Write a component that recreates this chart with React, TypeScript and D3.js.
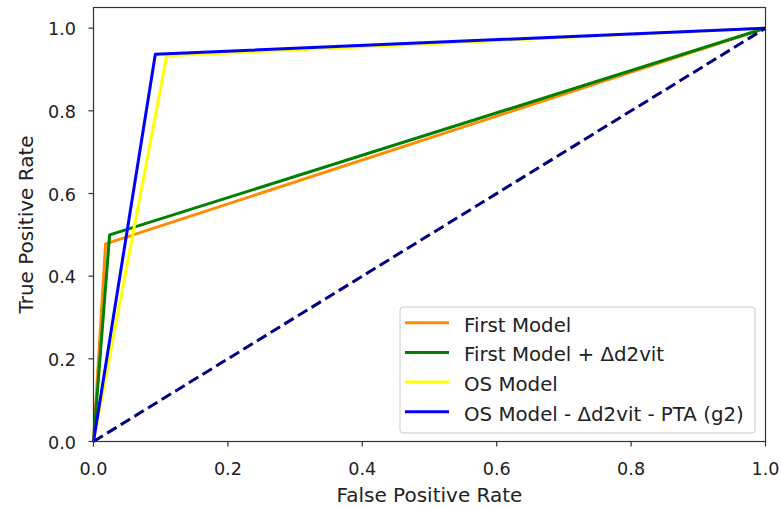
import React from "react";
import * as d3 from "d3";

const seriesNames = ["First Model", "First Model + Δd2vit", "OS Model", "OS Model - Δd2vit - PTA (g2)"];
const seriesColors = ["darkorange", "green", "yellow", "blue"];
const fprValues = [
  [0, 0.018, 1],
  [0, 0.024, 1],
  [0, 0.109, 1],
  [0, 0.092, 1],
];
const tprValues = [
  [0, 0.478, 1],
  [0, 0.5, 1],
  [0, 0.933, 1],
  [0, 0.937, 1],
];
const diagX = [0, 1];
const diagY = [0, 1];
const xTicks = [0, 0.2, 0.4, 0.6, 0.8, 1.0];
const yTicks = [0, 0.2, 0.4, 0.6, 0.8, 1.0];

export default function App() {
  const W = 781, H = 507;
  const left = 93.5, right = 765.5, top = 7.5, bottom = 441.5;
  const x = d3.scaleLinear().domain([0, 1]).range([left, right]);
  const y = d3.scaleLinear().domain([0, 1.05]).range([bottom, top]);
  const line = d3.line<[number, number]>().x((d) => x(d[0])).y((d) => y(d[1]));
  const font = "DejaVu Sans, sans-serif";
  const legX = 400, legY = 307, legW = 355, legH = 126;
  return (
    <svg width={W} height={H} style={{ position: "absolute", left: 0, top: 0 }}>
      <rect width={W} height={H} fill="white" />
      {seriesNames.map((n, i) => (
        <path
          key={n}
          d={line(fprValues[i].map((v, j) => [v, tprValues[i][j]]) as [number, number][]) || ""}
          fill="none"
          stroke={seriesColors[i]}
          strokeWidth={3}
          strokeLinejoin="round"
        />
      ))}
      <path
        d={line(diagX.map((v, j) => [v, diagY[j]]) as [number, number][]) || ""}
        fill="none"
        stroke="navy"
        strokeWidth={3}
        strokeDasharray="11,5"
      />
      <rect x={left} y={top} width={right - left} height={bottom - top} fill="none" stroke="#333" strokeWidth={1.2} />
      {xTicks.map((t) => (
        <g key={"x" + t}>
          <line x1={x(t)} x2={x(t)} y1={bottom} y2={bottom + 5} stroke="#333" strokeWidth={1.2} />
          <text x={x(t)} y={474.5} textAnchor="middle" fontFamily={font} fontSize={17.6} fill="#222">
            {t.toFixed(1)}
          </text>
        </g>
      ))}
      {yTicks.map((t) => (
        <g key={"y" + t}>
          <line x1={left - 5} x2={left} y1={y(t)} y2={y(t)} stroke="#333" strokeWidth={1.2} />
          <text x={76} y={y(t) + 7} textAnchor="end" fontFamily={font} fontSize={17.6} fill="#222">
            {t.toFixed(1)}
          </text>
        </g>
      ))}
      <text x={(left + right) / 2} y={502} textAnchor="middle" fontFamily={font} fontSize={20} fill="#222">
        False Positive Rate
      </text>
      <text
        transform={`translate(${32.5},${(top + bottom) / 2}) rotate(-90)`}
        textAnchor="middle"
        fontFamily={font}
        fontSize={20}
        fill="#222"
      >
        True Positive Rate
      </text>
      <rect x={legX} y={legY} width={legW} height={legH} rx={3} fill="white" fillOpacity={0.8} stroke="#ccc" strokeWidth={1} />
      {seriesNames.map((n, i) => (
        <g key={"l" + n}>
          <line x1={405} x2={449} y1={322.7 + i * 29.7} y2={322.7 + i * 29.7} stroke={seriesColors[i]} strokeWidth={3} />
          <text x={464} y={331.5 + i * 29.7} fontFamily={font} fontSize={19.8} fill="#222">
            {n}
          </text>
        </g>
      ))}
    </svg>
  );
}
